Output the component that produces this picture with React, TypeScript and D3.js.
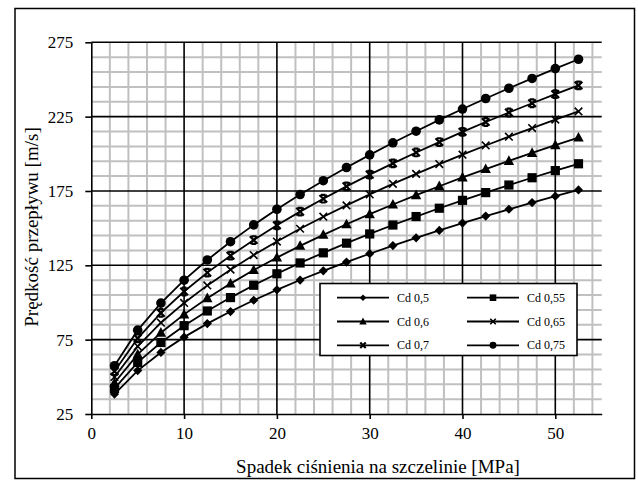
import React, { useEffect, useRef } from "react";
import * as d3 from "d3";

// pressure drop [MPa]
const pressures = [2.5, 5, 7.5, 10, 12.5, 15, 17.5, 20, 22.5, 25, 27.5, 30, 32.5, 35, 37.5, 40, 42.5, 45, 47.5, 50, 52.5];

// velocity [m/s] for each discharge coefficient
const cd050 = [38.4, 54.2, 66.4, 76.7, 85.8, 93.9, 101.5, 108.5, 115.1, 121.3, 127.2, 132.8, 138.3, 143.5, 148.5, 153.4, 158.1, 162.7, 167.2, 171.5, 175.7];
const cd055 = [42.2, 59.7, 73.1, 84.4, 94.3, 103.3, 111.6, 119.3, 126.6, 133.4, 139.9, 146.1, 152.1, 157.8, 163.4, 168.7, 173.9, 179.0, 183.9, 188.7, 193.3];
const cd060 = [46.0, 65.1, 79.7, 92.0, 102.9, 112.7, 121.8, 130.2, 138.1, 145.5, 152.6, 159.4, 165.9, 172.2, 178.2, 184.1, 189.7, 195.2, 200.6, 205.8, 210.9];
const cd065 = [49.9, 70.5, 86.4, 99.7, 111.5, 122.1, 131.9, 141.0, 149.6, 157.7, 165.3, 172.7, 179.8, 186.5, 193.1, 199.4, 205.6, 211.5, 217.3, 223.0, 228.5];
const cd070 = [53.7, 75.9, 93.0, 107.4, 120.1, 131.5, 142.0, 151.9, 161.1, 169.8, 178.1, 186.0, 193.6, 200.9, 207.9, 214.8, 221.4, 227.8, 234.0, 240.1, 246.0];
const cd075 = [57.5, 81.4, 99.6, 115.0, 128.6, 140.9, 152.2, 162.7, 172.6, 181.9, 190.8, 199.3, 207.4, 215.2, 222.8, 230.1, 237.2, 244.1, 250.7, 257.3, 263.6];

const seriesNames = ["Cd 0,5", "Cd 0,55", "Cd 0,6", "Cd 0,65", "Cd 0,7", "Cd 0,75"];
const seriesValues = [cd050, cd055, cd060, cd065, cd070, cd075];
const markerKinds = ["diamond", "square", "triangle", "cross", "star", "circle"];

const xTicks = [0, 10, 20, 30, 40, 50];
const yTicks = [25, 75, 125, 175, 225, 275];

const FONT = "Liberation Serif";

function drawMarker(g, kind, cx, cy, k) {
	if (kind === "circle") {
		g.append("circle").attr("cx", cx).attr("cy", cy).attr("r", 4.8 * k).attr("fill", "#000");
		return;
	}
	let d = "";
	if (kind === "diamond") d = `M0,${-4.6 * k}L${4.6 * k},0L0,${4.6 * k}L${-4.6 * k},0Z`;
	if (kind === "square") d = `M${-4.6 * k},${-4.6 * k}h${9.2 * k}v${9.2 * k}h${-9.2 * k}Z`;
	if (kind === "triangle") d = `M0,${-5.6 * k}L${5.2 * k},${4 * k}L${-5.2 * k},${4 * k}Z`;
	if (kind === "diamond" || kind === "square" || kind === "triangle") {
		g.append("path").attr("d", d).attr("transform", `translate(${cx},${cy})`).attr("fill", "#000");
		return;
	}
	const s = 3.8 * k;
	let p = `M${-s},${-s}L${s},${s}M${s},${-s}L${-s},${s}`;
	// star: X with short caps, only visible at full size
	if (kind === "star" && k === 1) p += `M${-s * 0.6},${-s}h${s * 1.2}M${-s * 0.6},${s}h${s * 1.2}`;
	g.append("path")
		.attr("d", p)
		.attr("transform", `translate(${cx},${cy})`)
		.attr("fill", "none")
		.attr("stroke", "#000")
		.attr("stroke-width", kind === "star" ? 2.2 : 1.6);
}

export default function App() {
	const ref = useRef<SVGSVGElement>(null);

	useEffect(() => {
		const svg = d3.select(ref.current);
		svg.selectAll("*").remove();

		const x = d3.scaleLinear().domain([0, 55]).range([91.3, 601.7]);
		const y = d3.scaleLinear().domain([25, 275]).range([414, 42.3]);

		svg.append("rect").attr("width", 638).attr("height", 480).attr("fill", "#fff");

		// outer chart frame
		svg.append("rect")
			.attr("x", 15)
			.attr("y", 8.5)
			.attr("width", 619.5)
			.attr("height", 470)
			.attr("fill", "none")
			.attr("stroke", "#000")
			.attr("stroke-width", 1.5);

		// minor grid (gray)
		const minorX = d3.range(2, 55, 2).filter((v) => v % 10 !== 0);
		const minorY = d3.range(35, 275, 10).filter((v) => (v - 25) % 50 !== 0);
		const grid = svg.append("g");
		grid.selectAll("line.mx")
			.data(minorX)
			.enter()
			.append("line")
			.attr("x1", (d) => x(d))
			.attr("x2", (d) => x(d))
			.attr("y1", y(25))
			.attr("y2", y(275))
			.attr("stroke", "#c0c0c0")
			.attr("stroke-width", 2);
		grid.selectAll("line.my")
			.data(minorY)
			.enter()
			.append("line")
			.attr("x1", x(0))
			.attr("x2", x(55))
			.attr("y1", (d) => y(d))
			.attr("y2", (d) => y(d))
			.attr("stroke", "#c0c0c0")
			.attr("stroke-width", 2);

		// major grid (black)
		grid.selectAll("line.Mx")
			.data(xTicks.slice(1))
			.enter()
			.append("line")
			.attr("x1", (d) => x(d))
			.attr("x2", (d) => x(d))
			.attr("y1", y(25))
			.attr("y2", y(275))
			.attr("stroke", "#000")
			.attr("stroke-width", 1.6);
		grid.selectAll("line.My")
			.data(yTicks.slice(1))
			.enter()
			.append("line")
			.attr("x1", x(0))
			.attr("x2", x(55))
			.attr("y1", (d) => y(d))
			.attr("y2", (d) => y(d))
			.attr("stroke", "#000")
			.attr("stroke-width", 1.6);

		// axes
		const xAxis = d3.axisBottom(x).tickValues(xTicks).tickSize(5).tickSizeOuter(0).tickPadding(8);
		const yAxis = d3.axisLeft(y).tickValues(yTicks).tickSize(6).tickSizeOuter(0).tickPadding(12);
		const gx = svg.append("g").attr("transform", `translate(0,${y(25)})`).call(xAxis);
		const gy = svg.append("g").attr("transform", `translate(${x(0)},0)`).call(yAxis);
		[gx, gy].forEach((g) => {
			g.attr("font-family", FONT).attr("font-size", 17);
			g.select(".domain").attr("stroke", "#000").attr("stroke-width", 1.6);
			g.selectAll(".tick line").attr("stroke", "#000").attr("stroke-width", 1.6);
			g.selectAll(".tick text").attr("fill", "#000");
		});

		// series
		const line = d3.line<number>()
			.x((d, i) => x(pressures[i]))
			.y((d) => y(d));
		seriesValues.forEach((vals, si) => {
			const g = svg.append("g");
			g.append("path")
				.attr("d", line(vals))
				.attr("fill", "none")
				.attr("stroke", "#000")
				.attr("stroke-width", 1.8);
			vals.forEach((v, i) => drawMarker(g, markerKinds[si], x(pressures[i]), y(v), 1));
		});

		// legend
		const lg = svg.append("g").attr("font-family", FONT).attr("font-size", 12);
		lg.append("rect")
			.attr("x", 320)
			.attr("y", 283.5)
			.attr("width", 257)
			.attr("height", 72)
			.attr("fill", "#fff")
			.attr("stroke", "#000")
			.attr("stroke-width", 1.6);
		seriesNames.forEach((name, i) => {
			const col = i % 2;
			const row = Math.floor(i / 2);
			const lx = col === 0 ? 337 : 467;
			const ly = 297.7 + row * 23.8;
			lg.append("line")
				.attr("x1", lx)
				.attr("x2", lx + 52)
				.attr("y1", ly)
				.attr("y2", ly)
				.attr("stroke", "#000")
				.attr("stroke-width", 1.8);
			drawMarker(lg, markerKinds[i], lx + 26, ly, 0.72);
			lg.append("text")
				.attr("x", lx + 60)
				.attr("y", ly + 4)
				.text(name);
		});

		// axis titles
		const titles = svg.append("g").attr("font-family", FONT).attr("font-size", 19);
		titles.append("text")
			.attr("x", 378)
			.attr("y", 473)
			.attr("text-anchor", "middle")
			.text("Spadek ciśnienia na szczelinie [MPa]");
		titles.append("text")
			.attr("transform", `translate(37.5,227) rotate(-90)`)
			.attr("text-anchor", "middle")
			.text("Prędkość przepływu [m/s]");
	}, []);

	return (
		<svg
			ref={ref}
			width={638}
			height={480}
			style={{ position: "absolute", left: 0, top: 0, display: "block" }}
		/>
	);
}
